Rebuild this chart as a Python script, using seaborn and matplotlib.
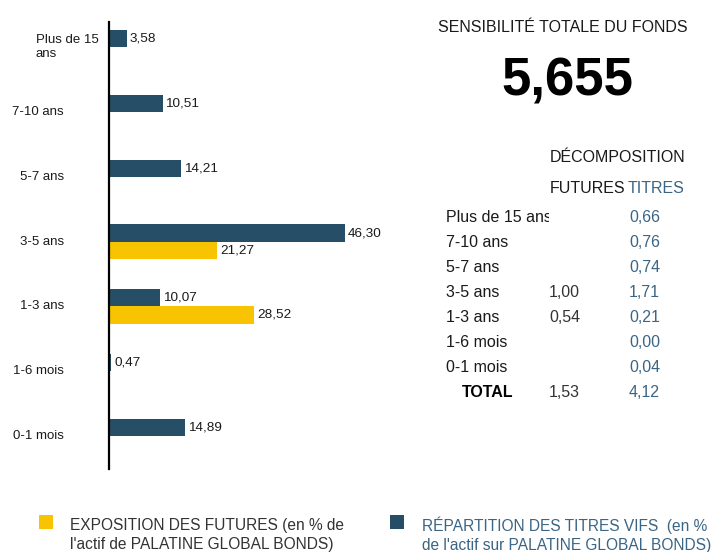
import numpy as np
import pandas as pd
import matplotlib
matplotlib.use('Agg')
import matplotlib.pyplot as plt
import matplotlib.transforms as mtransforms
from matplotlib.patches import Rectangle
import seaborn as sns

# data
categories = ["Plus de 15\nans", "7-10 ans", "5-7 ans", "3-5 ans", "1-3 ans", "1-6 mois", "0-1 mois"]
titres = [3.58, 10.51, 14.21, 46.30, 10.07, 0.47, 14.89]
futures = [np.nan, np.nan, np.nan, 21.27, 28.52, np.nan, np.nan]

table_rows = ["Plus de 15 ans", "7-10 ans", "5-7 ans", "3-5 ans", "1-3 ans", "1-6 mois", "0-1 mois"]
sens_futures = [np.nan, np.nan, np.nan, 1.00, 0.54, np.nan, np.nan]
sens_titres = [0.66, 0.76, 0.74, 1.71, 0.21, 0.00, 0.04]
total_futures = 1.53
total_titres = 4.12
sens_total = 5.655

lbl_titres = "RÉPARTITION DES TITRES VIFS  (en %\nde l'actif sur PALATINE GLOBAL BONDS)"
lbl_futures = "EXPOSITION DES FUTURES (en % de\nl'actif de PALATINE GLOBAL BONDS)"

navy = '#264e66'
yellow = '#f8c300'
blue_txt = '#3a6584'
dark = '#1a1a1a'

sns.set_style('white')
plt.rcParams['font.family'] = ['Liberation Sans', 'DejaVu Sans']

df = pd.DataFrame({'category': categories * 2,
                   'value': titres + futures,
                   'serie': ['titres'] * len(categories) + ['futures'] * len(categories)})

W, H = 726, 552
fig = plt.figure(figsize=(W / 100, H / 100), dpi=100)
ax = fig.add_axes([109 / W, 1 - 469 / H, (400 - 109) / W, (469 - 22) / H])

sns.barplot(data=df, x='value', y='category', hue='serie', order=categories,
            hue_order=['titres', 'futures'], palette={'titres': navy, 'futures': yellow},
            orient='h', width=0.53, errorbar=None, legend=False, saturation=1,
            linewidth=0, ax=ax)

fmt = lambda v: f"{v:.2f}".replace('.', ',')
for cont in ax.containers:
    ax.bar_label(cont, fmt=fmt, padding=2, fontsize=9.7, color=dark)

ax.set_xlim(0, (400 - 109) / 5.1)
ax.set_ylim(6.51, -0.39)
ax.set_xticks([])
ax.set_yticks([])
ax.set_xlabel('')
ax.set_ylabel('')
for s in ['top', 'right', 'bottom']:
    ax.spines[s].set_visible(False)
ax.spines['left'].set_color('black')
ax.spines['left'].set_linewidth(1.6)

# category labels
trans = mtransforms.blended_transform_factory(ax.transAxes, ax.transData)
for i, cat in enumerate(categories):
    if '\n' in cat:
        ax.text((36 - 109) / 291, i, cat, transform=trans, ha='left', va='center',
                fontsize=9.5, color=dark, linespacing=1.2)
    else:
        ax.text((64 - 109) / 291, i, cat, transform=trans, ha='right', va='center',
                fontsize=9.5, color=dark)

def px(x, y):
    return x / W, 1 - y / H

# right panel
fs = 11.5
fig.text(*px(563, 28), "SENSIBILITÉ TOTALE DU FONDS", ha='center', va='center',
         fontsize=fs, color=dark)
fig.text(*px(567, 82), f"{sens_total:.3f}".replace('.', ','),
         ha='center', va='center', fontsize=38, fontweight='bold', color='black')
fig.text(*px(550, 162), "DÉCOMPOSITION", ha='left', va='baseline', fontsize=fs, color=dark)
fig.text(*px(550, 193), "FUTURES", ha='left', va='baseline', fontsize=fs, color=dark)
fig.text(*px(628, 193), "TITRES", ha='left', va='baseline', fontsize=fs, color=blue_txt)

clip = mtransforms.Bbox.from_extents(0, 0, 549, H)
for i, row in enumerate(table_rows):
    y = 222 + 25 * i
    t = fig.text(*px(446, y), row, ha='left', va='baseline', fontsize=fs, color=dark)
    t.set_clip_box(clip)
    t.set_clip_on(True)
    if not np.isnan(sens_futures[i]):
        fig.text(*px(580, y), fmt(sens_futures[i]), ha='right', va='baseline',
                 fontsize=fs, color='#333333')
    fig.text(*px(660, y), fmt(sens_titres[i]), ha='right', va='baseline',
             fontsize=fs, color=blue_txt)
y = 222 + 25 * len(table_rows)
fig.text(*px(462, y), "TOTAL", ha='left', va='baseline', fontsize=fs,
         fontweight='bold', color='black')
fig.text(*px(580, y), fmt(total_futures), ha='right', va='baseline', fontsize=fs, color='#333333')
fig.text(*px(660, y), fmt(total_titres), ha='right', va='baseline', fontsize=fs, color=blue_txt)

# legend
fig.patches.append(Rectangle(px(39, 529), 14 / W, 14 / H, transform=fig.transFigure,
                             facecolor=yellow, edgecolor='none'))
fig.text(*px(70, 535), lbl_futures, ha='left', va='center', fontsize=11.2,
         color='#333333', linespacing=1.3)
fig.patches.append(Rectangle(px(390, 529), 14 / W, 14 / H, transform=fig.transFigure,
                             facecolor=navy, edgecolor='none'))
fig.text(*px(422, 535), lbl_titres, ha='left', va='center', fontsize=11.2,
         color=blue_txt, linespacing=1.3)

fig.savefig('out.png', dpi=100)
